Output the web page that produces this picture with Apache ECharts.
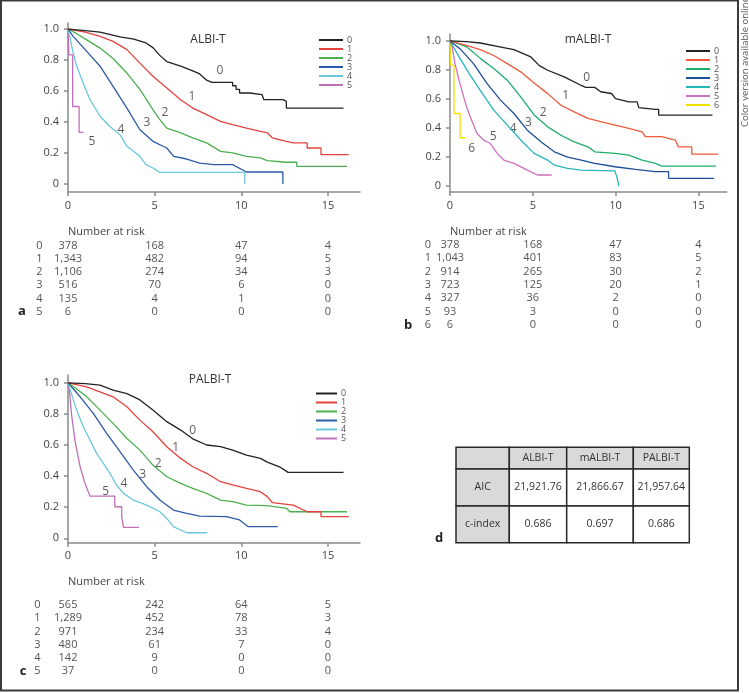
<!DOCTYPE html>
<html><head><meta charset="utf-8">
<script src="https://cdn.jsdelivr.net/npm/echarts@6/dist/echarts.min.js"></script>
<style>html,body{margin:0;padding:0;background:#fff}#c{width:749px;height:693px}</style>
</head><body><div id="c"></div>
<script>
// ---------- data ----------
const xTicks = [0, 5, 10, 15];
const yTicks = [0, 0.2, 0.4, 0.6, 0.8, 1.0];
const riskCols = [0, 5, 10, 15];

// Panel a: ALBI-T
const albi0 = [[0,1],[1,0.99],[1.85,0.98],[3,0.95],[3.8,0.935],[4.5,0.91],[4.9,0.88],[5.3,0.83],[5.7,0.79],[6.5,0.76],[7.2,0.73],[7.6,0.71],[8,0.67],[8.3,0.656],[9.5,0.656],[9.5,0.634],[9.7,0.634],[9.7,0.61],[9.9,0.61],[9.9,0.587],[10.5,0.587],[10.5,0.576],[11.2,0.576],[11.3,0.544],[12.4,0.544],[12.45,0.533],[12.6,0.533],[12.6,0.49],[15.9,0.49]];
const albi1 = [[0,1],[1,0.98],[1.85,0.953],[2.6,0.92],[3.4,0.867],[4.15,0.78],[4.9,0.695],[5.7,0.62],[6.5,0.544],[7.2,0.49],[8,0.447],[8.8,0.404],[9.5,0.383],[10.3,0.36],[11.1,0.34],[11.5,0.33],[11.8,0.297],[12.6,0.275],[13,0.265],[13.8,0.265],[13.8,0.232],[14.6,0.232],[14.6,0.189],[16.2,0.189]];
const albi2 = [[0,1],[0.5,0.97],[1.08,0.93],[1.85,0.877],[2.6,0.81],[3.4,0.716],[4.15,0.61],[4.9,0.48],[5.3,0.415],[5.7,0.36],[6.5,0.33],[7.2,0.297],[8,0.265],[8.8,0.21],[9.5,0.2],[10.3,0.178],[11.1,0.168],[11.5,0.15],[12.6,0.14],[13.2,0.14],[13.2,0.114],[16.1,0.114]];
const albi3 = [[0,1],[0.3,0.953],[1.08,0.856],[1.85,0.76],[2.6,0.63],[3.4,0.49],[4.15,0.35],[4.9,0.275],[5.7,0.232],[6.1,0.178],[6.85,0.161],[7.6,0.135],[8.4,0.125],[9.5,0.125],[10.3,0.077],[12.4,0.077],[12.4,0]];
const albi4 = [[0,1],[0.1,0.953],[0.3,0.845],[0.5,0.76],[0.88,0.65],[1.27,0.544],[1.85,0.437],[2.4,0.372],[3,0.318],[3.4,0.243],[3.8,0.21],[4.15,0.178],[4.5,0.125],[4.9,0.103],[5.3,0.075],[10.2,0.075],[10.2,0]];
const albi5 = [[0,1],[0.05,1],[0.05,0.833],[0.27,0.833],[0.27,0.5],[0.64,0.5],[0.64,0.333],[0.88,0.333]];

// Panel b: mALBI-T
const malbi0 = [[0,1],[1,0.995],[1.83,0.986],[3,0.96],[3.86,0.94],[4.88,0.89],[5.4,0.83],[5.9,0.798],[6.9,0.752],[7.9,0.695],[8.2,0.68],[8.74,0.68],[9.1,0.65],[9.75,0.638],[10,0.603],[10.8,0.58],[11.3,0.58],[11.4,0.541],[12.4,0.528],[12.6,0.528],[12.6,0.489],[15.85,0.489]];
const malbi1 = [[0,1],[1,0.97],[1.83,0.94],[2.64,0.9],[3.46,0.844],[4.27,0.787],[5.08,0.71],[5.9,0.637],[6.7,0.557],[7.5,0.511],[8.33,0.466],[9.15,0.443],[9.96,0.42],[10.8,0.397],[11.6,0.374],[11.8,0.34],[12.8,0.34],[13.6,0.317],[13.8,0.27],[14.6,0.27],[14.6,0.22],[16.2,0.22]];
const malbi2 = [[0,1],[0.4,0.985],[1,0.96],[1.83,0.88],[2.64,0.81],[3.46,0.73],[4.27,0.615],[5.08,0.49],[5.9,0.408],[6.7,0.35],[7.5,0.305],[8.33,0.27],[8.74,0.236],[9.96,0.225],[10.8,0.213],[11.6,0.179],[12.4,0.156],[12.8,0.138],[16.06,0.138]];
const malbi3 = [[0,1],[0.6,0.947],[1.42,0.844],[2.24,0.706],[3.05,0.592],[3.86,0.5],[4.67,0.385],[5.49,0.305],[6.3,0.236],[7.1,0.2],[7.93,0.179],[8.74,0.156],[9.96,0.133],[11.2,0.115],[12.4,0.099],[13.2,0.099],[13.2,0.053],[15.95,0.053]];
const malbi4 = [[0,1],[0.2,0.96],[0.6,0.88],[1.22,0.764],[1.83,0.66],[2.64,0.523],[3.46,0.42],[4.27,0.317],[5.08,0.225],[5.9,0.179],[6.3,0.144],[7.1,0.122],[7.93,0.11],[9.96,0.105],[10.1,0.053],[10.2,0.053],[10.2,0]];
const malbi5 = [[0,1],[0.1,0.98],[0.3,0.844],[0.6,0.706],[1,0.546],[1.22,0.477],[1.63,0.362],[2.03,0.317],[2.44,0.293],[2.85,0.225],[3.25,0.179],[3.86,0.156],[4.67,0.11],[5.28,0.076],[6.14,0.076]];
const malbi6 = [[0,1],[0.04,1],[0.04,0.833],[0.24,0.833],[0.24,0.5],[0.61,0.5],[0.61,0.333],[0.93,0.333]];

// Panel c: PALBI-T
const palbi0 = [[0,1],[1,0.995],[1.85,0.985],[2.6,0.953],[3.4,0.93],[4.15,0.89],[4.9,0.825],[5.7,0.75],[6.5,0.696],[7.2,0.64],[8,0.6],[8.8,0.59],[9.5,0.567],[10.3,0.535],[11.1,0.514],[11.5,0.49],[12.2,0.46],[12.7,0.424],[15.9,0.424]];
const palbi1 = [[0,1],[1.08,0.974],[1.85,0.942],[2.6,0.91],[3.4,0.846],[4.15,0.76],[4.9,0.685],[5.7,0.589],[6.5,0.514],[7.2,0.46],[8,0.418],[8.8,0.364],[9.5,0.343],[10.3,0.321],[11.1,0.3],[11.5,0.268],[11.8,0.229],[13,0.214],[13.8,0.171],[14.6,0.171],[14.6,0.139],[16.2,0.139]];
const palbi2 = [[0,1],[0.5,0.96],[1.08,0.91],[1.85,0.824],[2.6,0.739],[3.4,0.642],[4.15,0.567],[4.9,0.471],[5.7,0.396],[6.5,0.353],[7.2,0.321],[8,0.289],[8.8,0.246],[9.5,0.236],[10.3,0.214],[11.5,0.21],[12.6,0.193],[12.8,0.171],[16.1,0.171]];
const palbi3 = [[0,1],[0.7,0.91],[1.46,0.803],[2.23,0.675],[3,0.557],[3.77,0.439],[4.54,0.332],[5.3,0.246],[6.08,0.182],[6.85,0.161],[7.6,0.143],[9.15,0.139],[9.9,0.118],[10.4,0.075],[12.1,0.075]];
const palbi4 = [[0,1],[0.2,0.93],[0.5,0.824],[0.88,0.717],[1.27,0.632],[1.65,0.546],[2.04,0.482],[2.42,0.418],[2.8,0.343],[3.2,0.289],[3.77,0.246],[4.54,0.214],[5.3,0.171],[5.7,0.128],[6.08,0.075],[6.85,0.036],[8.04,0.036]];
const palbi5 = [[0,1],[0.1,0.93],[0.2,0.8],[0.4,0.63],[0.7,0.46],[0.98,0.353],[1.27,0.272],[2.7,0.272],[2.7,0.203],[3.1,0.203],[3.1,0.139],[3.2,0.139],[3.2,0.07],[4.1,0.07]];

// curve label positions [time, survival]
const labelsA = [[8.77,0.735],[7.15,0.561],[5.6,0.458],[4.56,0.394],[3.06,0.348],[1.38,0.271]];
const labelsB = [[8.25,0.747],[6.99,0.623],[5.63,0.506],[4.73,0.437],[3.82,0.398],[2.61,0.34],[1.31,0.26]];
const labelsC = [[7.2,0.692],[6.21,0.585],[5.21,0.482],[4.31,0.407],[3.23,0.353],[2.18,0.3]];

// numbers at risk
const riskA = [[378,168,47,4],[1343,482,94,5],[1106,274,34,3],[516,70,6,0],[135,4,1,0],[6,0,0,0]];
const riskB = [[378,168,47,4],[1043,401,83,5],[914,265,30,2],[723,125,20,1],[327,36,2,0],[93,3,0,0],[6,0,0,0]];
const riskC = [[565,242,64,5],[1289,452,78,3],[971,234,33,4],[480,61,7,0],[142,9,0,0],[37,0,0,0]];

// table d
const tableCols = ['ALBI-T','mALBI-T','PALBI-T'];
const tableRows = ['AIC','c-index'];
const aicValues = ['21,921.76','21,866.67','21,957.64'];
const cIndexValues = ['0.686','0.697','0.686'];

// ---------- styling ----------
const FONT = '"Open Sans", "Noto Sans", sans-serif';
const colorsA = ['#222222','#e5433d','#4cb050','#2d5aa8','#6cc8dc','#c070b8'];
const colorsB = ['#222222','#ee5a3a','#1fae6a','#1f4e9c','#25b5bd','#d070c0','#f2e000'];
const colorsC = ['#222222','#e5433d','#4cb050','#2d5aa8','#6cc8dc','#c070b8'];

const panels = [
  {key:'a', title:'ALBI-T', curves:[albi0,albi1,albi2,albi3,albi4,albi5], colors:colorsA, labels:labelsA, risk:riskA,
   grid:{left:68, top:23, width:292, height:169}, ymin:-0.052, ymax:1.039, xmax:16.85,
   legend:{left:319, top:35.5, iw:24, gap:8.6},
   titleXY:[208,40], riskTitle:[68,232], riskY0:245.7, riskDy:13.2, rowLabelX:39.5, letterXY:[22,311.7]},
  {key:'b', title:'mALBI-T', curves:[malbi0,malbi1,malbi2,malbi3,malbi4,malbi5,malbi6], colors:colorsB, labels:labelsB, risk:riskB,
   grid:{left:450, top:34, width:276.7, height:158}, ymin:-0.041, ymax:1.048, xmax:16.71,
   legend:{left:686, top:46.5, iw:24, gap:8.8},
   titleXY:[588,40], riskTitle:[450,232], riskY0:245, riskDy:13.3, rowLabelX:428, letterXY:[408,325]},
  {key:'c', title:'PALBI-T', curves:[palbi0,palbi1,palbi2,palbi3,palbi4,palbi5], colors:colorsC, labels:labelsC, risk:riskC,
   grid:{left:68, top:375, width:292, height:167.7}, ymin:-0.028, ymax:1.05, xmax:16.85,
   legend:{left:316, top:389, iw:21, gap:8.8},
   titleXY:[210,380], riskTitle:[68,582], riskY0:605, riskDy:13.2, rowLabelX:37.5, letterXY:[23,671]}
];

const axisLineStyle = {color:'#8a8a8a', width:1.5};
const option = {animation:false, backgroundColor:'#fff', textStyle:{fontFamily:FONT},
  grid:[], xAxis:[], yAxis:[], series:[], legend:[]};

panels.forEach((p, pi) => {
  option.grid.push(Object.assign({containLabel:false}, p.grid));
  option.xAxis.push({type:'value', gridIndex:pi, min:0, max:p.xmax,
    axisLine:{show:true, onZero:false, lineStyle:axisLineStyle},
    axisTick:{show:true, length:4, customValues:xTicks, lineStyle:axisLineStyle},
    axisLabel:{customValues:xTicks, margin:8, fontSize:11, color:'#444', fontFamily:FONT},
    splitLine:{show:false}});
  option.yAxis.push({type:'value', gridIndex:pi, min:p.ymin, max:p.ymax,
    axisLine:{show:true, onZero:false, lineStyle:axisLineStyle},
    axisTick:{show:true, length:4, customValues:yTicks, lineStyle:axisLineStyle},
    axisLabel:{customValues:yTicks, margin:9, fontSize:11, color:'#444', fontFamily:FONT,
      formatter: v => (Math.abs(v) < 1e-9 ? '0' : v.toFixed(1))},
    splitLine:{show:false}});
  const names = [];
  p.curves.forEach((d, ci) => {
    const name = p.key + '-' + ci;
    names.push(name);
    option.series.push({type:'line', name, xAxisIndex:pi, yAxisIndex:pi, data:d,
      showSymbol:false, symbol:'none', silent:true,
      lineStyle:{color:p.colors[ci], width:1.3}, itemStyle:{color:p.colors[ci]},
      z: 10 - ci});
  });
  option.series.push({type:'scatter', xAxisIndex:pi, yAxisIndex:pi, symbolSize:0, silent:true,
    data:p.labels.map((c, i) => ({value:c, name:String(i)})),
    label:{show:true, position:'inside', formatter: q => q.name, fontSize:12, color:'#333', fontFamily:FONT}});
  option.legend.push({data:names, orient:'vertical', left:p.legend.left, top:p.legend.top,
    icon:'rect', itemWidth:p.legend.iw, itemHeight:2, itemGap:0, selectedMode:false,
    padding:0, formatter: n => n.split('-')[1],
    textStyle:{fontSize:9, color:'#555', lineHeight:p.legend.gap, padding:[0,0,0,-1], fontFamily:FONT}});
});

const chart = echarts.init(document.getElementById('c'), null, {renderer:'canvas'});
chart.setOption(option);

// ---------- text annotations ----------
const g = [];
g.push({type:'rect', shape:{x:1, y:0.5, width:737, height:690}, style:{fill:'none', stroke:'#3a3a3a', lineWidth:2}, silent:true});
g.push({type:'text', x:745.5, y:62, rotation:Math.PI/2, style:{text:'Color version available online', fill:'#555', align:'center', verticalAlign:'middle', font:'9.5px ' + FONT}});
const fmt = n => n.toLocaleString('en-US');
panels.forEach((p, pi) => {
  g.push({type:'text', x:p.titleXY[0], y:p.titleXY[1], style:{text:p.title, font:'12px ' + FONT, fill:'#333', align:'center', verticalAlign:'middle'}});
  g.push({type:'text', x:p.riskTitle[0], y:p.riskTitle[1], style:{text:'Number at risk', font:'11px ' + FONT, fill:'#444', align:'left', verticalAlign:'middle'}});
  const colX = riskCols.map(t => chart.convertToPixel({xAxisIndex:pi}, t));
  p.risk.forEach((row, ri) => {
    const y = p.riskY0 + ri * p.riskDy;
    g.push({type:'text', x:p.rowLabelX, y, style:{text:String(ri), font:'11px ' + FONT, fill:'#555', align:'center', verticalAlign:'middle'}});
    row.forEach((v, ci) => {
      g.push({type:'text', x:colX[ci], y, style:{text:fmt(v), font:'11px ' + FONT, fill:'#555', align:'center', verticalAlign:'middle'}});
    });
  });
  g.push({type:'text', x:p.letterXY[0], y:p.letterXY[1], style:{text:p.key, font:'bold 13px ' + FONT, fill:'#222', align:'center', verticalAlign:'middle'}});
});
// table d
const tx = [456, 509.3, 566.7, 633.3, 689.3];
const ty = [447.3, 469, 506, 542.7];
for (let r = 0; r < 3; r++) {
  for (let c = 0; c < 4; c++) {
    const grey = (r === 0 || c === 0);
    g.push({type:'rect', shape:{x:tx[c], y:ty[r], width:tx[c+1]-tx[c], height:ty[r+1]-ty[r]},
      style:{fill: grey ? '#d9d9d9' : '#ffffff', stroke:'#2a2a2a', lineWidth:1.5}, silent:true});
    let txt = '';
    if (r === 0 && c > 0) txt = tableCols[c-1];
    else if (r > 0 && c === 0) txt = tableRows[r-1];
    else if (r === 1) txt = aicValues[c-1];
    else if (r === 2) txt = cIndexValues[c-1];
    if (txt) g.push({type:'text', x:(tx[c]+tx[c+1])/2, y:(ty[r]+ty[r+1])/2,
      style:{text:txt, font:'10.5px ' + FONT, fill:'#333', align:'center', verticalAlign:'middle'}});
  }
}
g.push({type:'text', x:439, y:538, style:{text:'d', font:'bold 13px ' + FONT, fill:'#222', align:'center', verticalAlign:'middle'}});
chart.setOption({graphic:{elements:g}});
</script>
</body></html>
